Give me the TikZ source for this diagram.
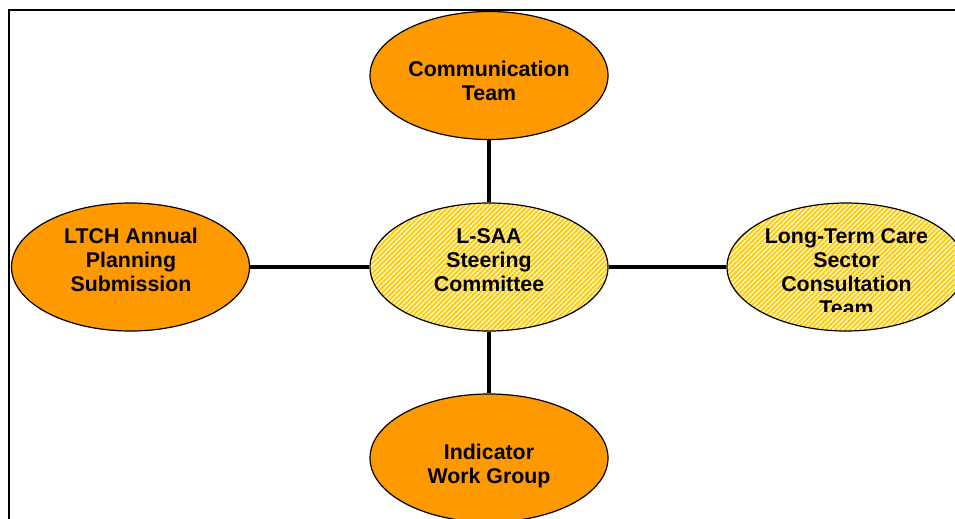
\documentclass[tikz,border=0pt]{standalone}
\usepackage{fontspec}
\setmainfont{Liberation Sans}
\usetikzlibrary{shapes.geometric,patterns.meta}
\definecolor{teamorange}{HTML}{FF9900}
\definecolor{hatchyellow}{HTML}{FFCC00}

\tikzset{
  group/.style={ellipse,draw,line width=0.9pt,minimum width=178.5pt,minimum height=96pt,inner sep=0pt},
  solidgroup/.style={group,fill=teamorange},
  hatchgroup/.style={group,preaction={fill=hatchyellow!15},
    pattern={Lines[angle=45,distance=2.6pt,line width=1.4pt]},pattern color=hatchyellow},
  grouptext/.style={align=center,inner sep=0pt,font=\fontsize{16}{18}\selectfont\bfseries},
  link/.style={line width=3pt}
}

\begin{document}
\begin{tikzpicture}[x=0.75pt,y=-0.75pt]
      \clip (0,0) rectangle (955,518);
      \draw[line width=1.2pt] (9,10) rectangle (975,540);

      \node[solidgroup] (comm) at (489,75.5) {};
      \node[hatchgroup] (lsaa) at (489,267) {};
      \node[solidgroup] (ltch) at (130.5,267) {};
      \node[hatchgroup] (ltc)  at (846,267) {};
      \node[solidgroup] (ind)  at (489,458) {};

      \draw[link] (comm) -- (lsaa);
      \draw[link] (lsaa) -- (ind);
      \draw[link] (ltch) -- (lsaa);
      \draw[link] (lsaa) -- (ltc);

      \node[grouptext] (commtext) at (489,81) {Communication\\Team};
      \node[grouptext] (lsaatext) at (489,260) {L-SAA\\Steering\\Committee};
      \node[grouptext] (ltchtext) at (131,260) {LTCH Annual\\Planning\\Submission};
      \node[grouptext] (indtext)  at (489,465.5) {Indicator\\Work Group};
      \begin{scope}
        \clip (700,200) rectangle (960,311);
        \node[grouptext] (ltctext) at (846.5,272) {Long-Term Care\\Sector\\Consultation\\Team};
      \end{scope}
\end{tikzpicture}
\end{document}
